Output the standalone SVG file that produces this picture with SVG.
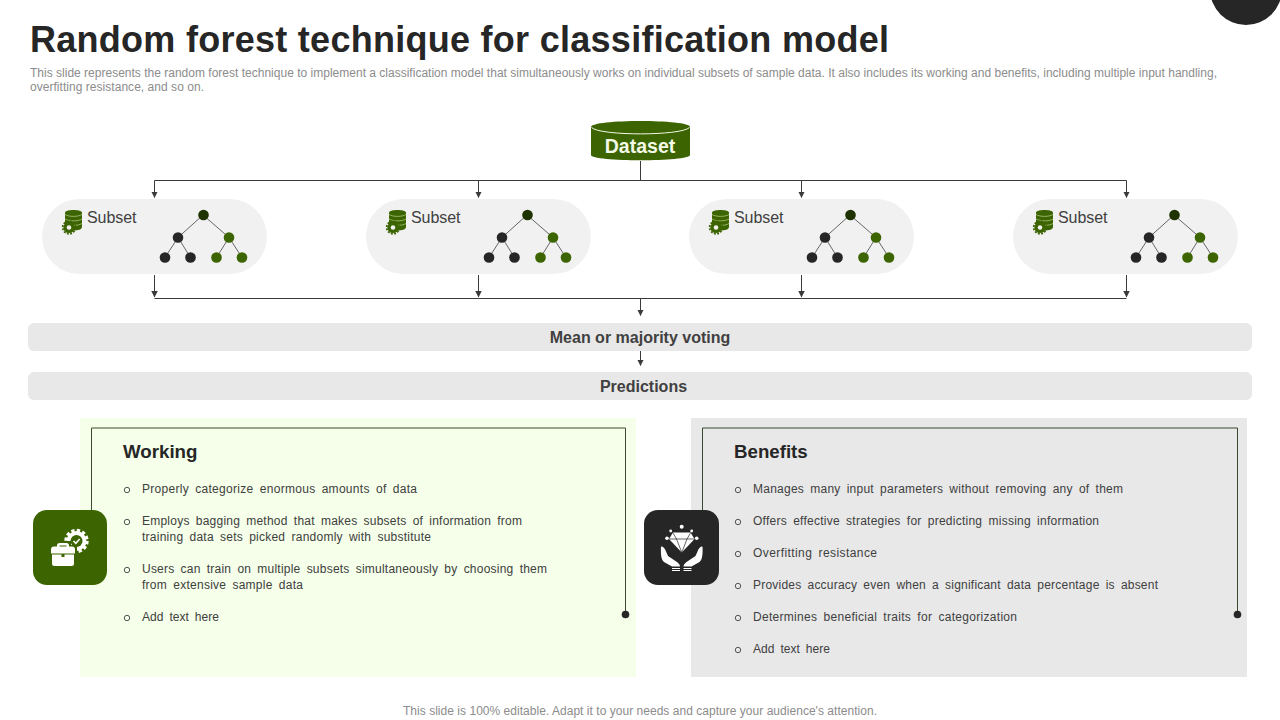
<svg xmlns="http://www.w3.org/2000/svg" width="1280" height="720" viewBox="0 0 1280 720">
<style>
text{font-family:"Liberation Sans",Arial,sans-serif}
.title{font-size:36px;font-weight:700;fill:#262626}
.sub{font-size:12px;fill:#8c8c8c}
.foot{font-size:12px;fill:#8c8c8c}
.bar{fill:#e8e8e8}
.barT{font-size:16px;font-weight:700;fill:#404040;text-anchor:middle}
.pill{fill:#f1f1f1}
.st{font-size:16px;fill:#404040}
.h{font-size:18.700px;font-weight:700;fill:#262626}
.b{font-size:12px;fill:#404040;word-spacing:2.600px}
.bul{fill:none;stroke:#555;stroke-width:1}
.ln{fill:none;stroke:#3a3a3a;stroke-width:1}
.frame{fill:none;stroke:#3a4a30;stroke-width:1}
.tl{stroke:#666;stroke-width:1}
.k{fill:#262626}
.g{fill:#3c6400}
.ic{fill:#fff}
</style>
<defs>
<marker id="ah" markerWidth="6.500" markerHeight="6.500" refX="5.500" refY="3" orient="auto" markerUnits="userSpaceOnUse" viewBox="0 0 6 6"><path d="M0 0L6 3L0 6Z" fill="#3a3a3a"/></marker>
<g id="sub">
<rect class="pill" x="0" y="0" width="225" height="75" rx="37.500"/>
<path class="g" d="M23 13.500C23 10 40 10 40 13.500V28C40 30.500 36 31.500 31 31.500L23 26Z"/>
<path d="M23 15.500C27 18 36 18 40 15.500M23 20C27 22.500 36 22.500 40 20M24 24.500C28 27 36 27 40 24.500" fill="none" stroke="#a9c77e" stroke-width=".8"/>
<circle class="g" cx="27" cy="28.500" r="5.600"/>
<circle cx="27" cy="28.500" r="6.300" fill="none" stroke="#3c6400" stroke-width="1.800" stroke-dasharray="1.900 1.400"/>
<circle cx="27" cy="28.500" r="2.300" fill="#f1f1f1"/>
<text class="st" x="45" y="24" textLength="49.500">Subset</text>
<line class="tl" x1="161" y1="16" x2="136" y2="38.500"/>
<line class="tl" x1="161" y1="16" x2="187" y2="38.500"/>
<line class="tl" x1="136" y1="38.500" x2="123" y2="58.500"/>
<line class="tl" x1="136" y1="38.500" x2="148.500" y2="58.500"/>
<line class="tl" x1="187" y1="38.500" x2="174.500" y2="58.500"/>
<line class="tl" x1="187" y1="38.500" x2="200" y2="58.500"/>
<circle cx="161.500" cy="16" r="5.300" fill="#1e3300"/>
<circle class="k" cx="136" cy="38.500" r="5.300"/>
<circle class="g" cx="187" cy="38.500" r="5.300"/>
<circle class="k" cx="123" cy="58.500" r="5.300"/>
<circle class="k" cx="148.500" cy="58.500" r="5.300"/>
<circle class="g" cx="174.500" cy="58.500" r="5.300"/>
<circle class="g" cx="200" cy="58.500" r="5.300"/>
</g>
</defs>
<rect width="1280" height="720" fill="#fff"/>
<circle cx="1246" cy="-11" r="36" fill="#262626"/>
<text class="title" x="30" y="52" textLength="859">Random forest technique for classification model</text>
<text class="sub" x="30" y="77" textLength="1187" lengthAdjust="spacing">This slide represents the random forest technique to implement a classification model that simultaneously works on individual subsets of sample data. It also includes its working and benefits, including multiple input handling,</text>
<text class="sub" x="30" y="91" textLength="174">overfitting resistance, and so on.</text>

<g id="connectors">
<path class="ln" d="M640.500 161V180.500"/>
<path class="ln" d="M154.500 180.500H1126.500"/>
<path class="ln" d="M154.500 180.500V197.500" marker-end="url(#ah)"/>
<path class="ln" d="M478.500 180.500V197.500" marker-end="url(#ah)"/>
<path class="ln" d="M801.500 180.500V197.500" marker-end="url(#ah)"/>
<path class="ln" d="M1126.500 180.500V197.500" marker-end="url(#ah)"/>
<path class="ln" d="M154.500 275V297" marker-end="url(#ah)"/>
<path class="ln" d="M478.500 275V297" marker-end="url(#ah)"/>
<path class="ln" d="M801.500 275V297" marker-end="url(#ah)"/>
<path class="ln" d="M1126.500 275V297" marker-end="url(#ah)"/>
<path class="ln" d="M154.500 298.500H1126.500"/>
<path class="ln" d="M640.500 299V315.500" marker-end="url(#ah)"/>
<path class="ln" d="M640.500 351V365.500" marker-end="url(#ah)"/>
</g>

<g id="dataset">
<path d="M591 127C591 119 690 119 690 127V155C690 162 591 162 591 155Z" fill="#3c6400"/>
<path d="M591.500 127.500C600 136 681 136 689.500 127.500" fill="none" stroke="#f1f7e4" stroke-width="1"/>
<text x="640" y="153" font-size="19.500" font-weight="700" fill="#f4f9e8" text-anchor="middle">Dataset</text>
</g>

<use id="subset1" href="#sub" x="42" y="199"/>
<use id="subset2" href="#sub" x="366" y="199"/>
<use id="subset3" href="#sub" x="689" y="199"/>
<use id="subset4" href="#sub" x="1013" y="199"/>

<g id="voting">
<rect class="bar" x="28" y="323" width="1224" height="28" rx="6"/>
<text class="barT" x="640" y="343">Mean or majority voting</text>
</g>
<g id="predictions">
<rect class="bar" x="28" y="372" width="1224" height="28" rx="6"/>
<text class="barT" x="643.500" y="392">Predictions</text>
</g>

<g id="working">
<rect x="80" y="418" width="556" height="259" fill="#f5ffe9"/>
<path class="frame" d="M91.500 511V428H625.500V612"/>
<circle cx="625.500" cy="614.500" r="3.800" fill="#262626"/>
<text class="h" x="123" y="458">Working</text>
<g class="bul">
<circle cx="127" cy="490" r="2.700"/><circle cx="127" cy="522" r="2.700"/><circle cx="127" cy="570" r="2.700"/><circle cx="127" cy="618" r="2.700"/>
</g>
<text class="b" x="142" y="493" textLength="275" lengthAdjust="spacing">Properly categorize enormous amounts of data</text>
<text class="b" x="142" y="525" textLength="380" lengthAdjust="spacing">Employs bagging method that makes subsets of information from</text>
<text class="b" x="142" y="541" textLength="289" lengthAdjust="spacing">training data sets picked randomly with substitute</text>
<text class="b" x="142" y="573" textLength="405" lengthAdjust="spacing">Users can train on multiple subsets simultaneously by choosing them</text>
<text class="b" x="142" y="589" textLength="161" lengthAdjust="spacing">from extensive sample data</text>
<text class="b" x="142" y="621" textLength="77" lengthAdjust="spacing">Add text here</text>
<rect x="33" y="510" width="74" height="75" rx="14" fill="#3c6400"/>
<circle class="ic" cx="76.500" cy="541" r="10"/>
<circle cx="76.500" cy="541" r="10.700" fill="none" stroke="#fff" stroke-width="3" stroke-dasharray="3.300 2.300"/>
<circle cx="76.500" cy="541" r="6" fill="#3c6400"/>
<path d="M73.500 541l2.300 2.300 3.900-4.300" fill="none" stroke="#fff" stroke-width="1.600"/>
<path d="M49 541H71V545H77V568H49Z" fill="#3c6400"/>
<g class="ic">
<path d="M57 546.500h-3a3 3 0 0 0-3 3v4h24v-4a3 3 0 0 0-3-3h-3v-1a2.500 2.500 0 0 0-2.500-2.500h-7a2.500 2.500 0 0 0-2.500 2.500zm2.500 0v-1h7v1z" fill-rule="evenodd"/>
<path d="M52 554.500h9.500v2.500h3v-2.500H74v9a2.500 2.500 0 0 1-2.500 2.500h-17a2.500 2.500 0 0 1-2.500-2.500z"/>
</g>
</g>

<g id="benefits">
<rect x="691" y="418" width="556" height="259" fill="#e8e8e8"/>
<path class="frame" d="M702.500 511V428H1237.500V612"/>
<circle cx="1237.500" cy="614.500" r="3.800" fill="#262626"/>
<text class="h" x="734" y="458">Benefits</text>
<g class="bul">
<circle cx="738" cy="490" r="2.700"/><circle cx="738" cy="522" r="2.700"/><circle cx="738" cy="554" r="2.700"/><circle cx="738" cy="586" r="2.700"/><circle cx="738" cy="618" r="2.700"/><circle cx="738" cy="650" r="2.700"/>
</g>
<text class="b" x="753" y="493" textLength="370" lengthAdjust="spacing">Manages many input parameters without removing any of them</text>
<text class="b" x="753" y="525" textLength="346" lengthAdjust="spacing">Offers effective strategies for predicting missing information</text>
<text class="b" x="753" y="557" textLength="124" lengthAdjust="spacing">Overfitting resistance</text>
<text class="b" x="753" y="589" textLength="405" lengthAdjust="spacing">Provides accuracy even when a significant data percentage is absent</text>
<text class="b" x="753" y="621" textLength="264" lengthAdjust="spacing">Determines beneficial traits for categorization</text>
<text class="b" x="753" y="653" textLength="77" lengthAdjust="spacing">Add text here</text>
<rect x="644" y="510" width="75" height="75" rx="14" fill="#262626"/>
<g class="ic">
<path d="M673 532.500h17.500l4 6.500-12.700 13.500L669 539z"/>
<circle cx="681.700" cy="526.700" r="2"/><circle cx="670.700" cy="531" r="1.400"/><circle cx="691.700" cy="531" r="1.400"/><circle cx="667" cy="538.300" r="1.800"/><circle cx="696.700" cy="538.300" r="1.800"/>
<path d="M661 546.500c2.500 0 4 2 5 5l2 4.500 9 6c2 1.500 3 3 3 4.500h-8l-8-4.500c-2.500-2-3.500-7-3-15.500z"/>
<path d="M702.500 546.500c-2.500 0-4 2-5 5l-2 4.500-9 6c-2 1.500-3 3-3 4.500h8l8-4.500c2.500-2 3.500-7 3-15.500z"/>
<rect x="672" y="568" width="8" height="1"/><rect x="672" y="570" width="8" height="1"/><rect x="683.500" y="568" width="8" height="1"/><rect x="683.500" y="570" width="8" height="1"/>
</g>
<path d="M673 533l3.500 6 5.300 13.500 5.200-13.500 3.500-6M669 539h25.500" fill="none" stroke="#262626" stroke-width=".7"/>
</g>

<text class="foot" x="640" y="715" text-anchor="middle" textLength="474" lengthAdjust="spacing">This slide is 100% editable. Adapt it to your needs and capture your audience's attention.</text>
</svg>
